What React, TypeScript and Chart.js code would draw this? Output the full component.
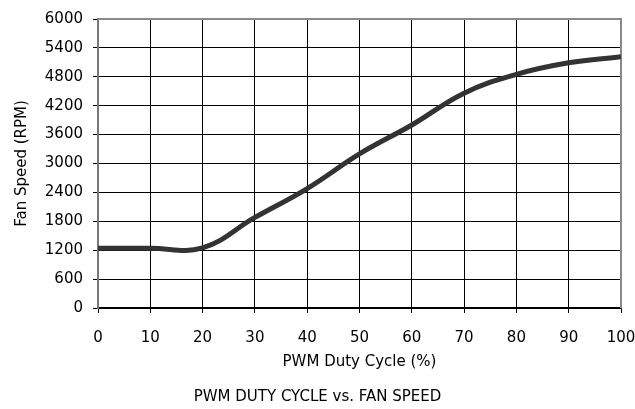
import React, { useEffect, useRef } from "react";
import { Chart, registerables } from "chart.js";

Chart.register(...registerables);

const dutyCycle = [0, 10, 20, 30, 40, 50, 60, 70, 80, 90, 100];
const fanSpeed = [1240, 1240, 1250, 1880, 2480, 3200, 3800, 4460, 4850, 5090, 5215];

const xTitle = "PWM Duty Cycle (%)";
const yTitle = "Fan Speed (RPM)";
const chartTitle = "PWM DUTY CYCLE vs. FAN SPEED";

const FONT = "'DejaVu Sans', 'Liberation Sans', Arial, sans-serif";

const frame = {
  id: "frame",
  beforeDatasetsDraw(chart: any) {
    const { ctx, chartArea } = chart;
    const { left, right, top, bottom } = chartArea;
    ctx.save();
    ctx.strokeStyle = "#8a8a8a";
    ctx.lineWidth = 2;
    ctx.beginPath();
    ctx.moveTo(left, top);
    ctx.lineTo(right, top);
    ctx.lineTo(right, bottom);
    ctx.stroke();
    ctx.restore();
  },
};

export default function App() {
  const ref = useRef<HTMLCanvasElement>(null);
  useEffect(() => {
    const canvas = ref.current;
    if (!canvas) return;
    const chart = new Chart(canvas, {
      type: "line",
      data: {
        datasets: [
          {
            data: dutyCycle.map((x, i) => ({ x, y: fanSpeed[i] })),
            borderColor: "#333333",
            borderWidth: 5,
            pointRadius: 0,
            tension: 0.4,
            fill: false,
          },
        ],
      },
      options: {
        responsive: false,
        animation: false,
        layout: { padding: { top: 19, left: 0, right: 0, bottom: 0 } },
        plugins: {
          legend: { display: false },
          tooltip: { enabled: false },
          title: {
            display: true,
            text: chartTitle,
            position: "bottom",
            color: "#000",
            font: { family: FONT, size: 15, weight: "normal" },
            padding: { top: 14, bottom: 3 },
          },
        },
        scales: {
          x: {
            type: "linear",
            min: 0,
            max: 100,
            afterFit: (scale: any) => {
              scale.height = 66;
              scale.paddingRight = 14;
            },
            ticks: {
              stepSize: 10,
              color: "#000",
              padding: 16,
              maxRotation: 0,
              font: { family: FONT, size: 15 },
              callback: (v: any) => String(v),
            },
            grid: { color: "#000", lineWidth: 1, tickLength: 5 },
            border: { color: "#000", width: 1.5 },
            title: {
              display: true,
              text: xTitle,
              color: "#000",
              font: { family: FONT, size: 15 },
              padding: { top: 4, bottom: 3 },
            },
          },
          y: {
            min: 0,
            max: 6000,
            afterFit: (scale: any) => {
              scale.width = 98;
            },
            ticks: {
              stepSize: 600,
              color: "#000",
              padding: 10,
              font: { family: FONT, size: 15 },
              callback: (v: any) => String(v),
            },
            grid: { color: "#000", lineWidth: 1, tickLength: 5 },
            border: { color: "#777", width: 2 },
            title: {
              display: true,
              text: yTitle,
              color: "#000",
              font: { family: FONT, size: 15 },
              padding: { top: 13, bottom: 4 },
            },
          },
        },
      },
      plugins: [frame],
    });
    return () => chart.destroy();
  }, []);
  return (
    <div style={{ position: "fixed", left: 0, top: 0, width: 635, height: 409, background: "#fff" }}>
      <canvas ref={ref} width={635} height={409} />
    </div>
  );
}
